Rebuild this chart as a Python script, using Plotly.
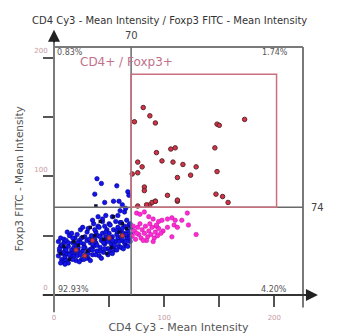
import plotly.graph_objects as go

# ---- data ----
blue_x = [4,5,6,4,7,8,9,6,10,8,10,9,
          11,12,13,11,14,15,16,17,13,18,19,16,12,18,20,19,
          21,22,23,21,24,25,26,27,28,23,29,30,26,28,24,30,
          31,32,33,34,31,35,36,37,38,33,39,40,36,38,34,40,
          41,42,43,44,41,45,46,47,48,43,49,50,46,48,44,50,
          51,52,53,54,51,55,56,57,58,53,59,60,56,58,54,60,
          61,62,63,64,61,65,66,67,68,63,69,70,66,68,64,70,
          5,7,9,11,13,15,17,20,22,25,27,29,32,35,37,39,42,45,47,49,52,55,57,59,62,65,67,69,
          6,10,14,17,21,24,27,31,35,38,42,46,49,53,57,61,65,69,
          39,43,57,67,68,37,54,46,59,60,64,40,47,53,58,62,65,44,35]
blue_y = [33,37,41,45,30,35,44,48,39,28,32,47,
          29,35,41,46,50,31,38,44,27,33,48,52,53,40,29,36,
          33,40,46,51,55,30,37,43,49,28,34,53,57,40,44,46,
          31,38,44,50,56,34,41,47,53,29,37,58,60,44,39,50,
          33,40,46,52,57,36,43,49,55,31,39,60,58,46,62,52,
          37,43,49,55,59,38,45,51,57,35,41,61,62,48,41,54,
          40,46,52,58,61,42,48,54,59,39,45,57,63,50,44,51,
          39,42,36,38,44,35,48,42,37,48,40,31,47,38,55,42,37,44,53,45,47,42,54,45,56,51,41,48,
          27,26,34,30,44,34,30,35,43,34,49,39,34,46,38,49,45,60,
          98,94,92,87,84,85,79,78,79,71,70,66,67,66,67,76,73,64,63]
navy_x = [6,14,22,30,37,45,52,59,66,9,26,48,38,54,62,18,33,42]
navy_y = [35,30,42,37,50,47,40,53,56,41,49,35,75,66,60,45,57,62]
magenta_x = [75,78,82,86,90,95,98,103,107,110,116,121,109,112,107,122,129,103,99,93,
             71,73,74,76,77,79,80,82,83,85,86,88,89,91,92,94,95,72,78,84,87,90,75,81,93,97]
magenta_y = [69,68,70,66,64,62,63,64,65,63,63,69,59,57,49,59,51,57,54,58,
             50,54,47,57,51,48,55,52,58,49,54,51,57,48,53,50,56,58,60,46,60,45,52,46,59,52]
red_x = [81,87,92,73,148,150,173,93,106,110,146,76,80,98,108,117,129,148,71,76,112,124,
         82,82,103,112,92,147,153,158,76,87,84,89,92,112,
         20,35,50,28,62]
red_y = [158,151,145,146,144,143,148,120,123,124,124,112,108,113,112,110,108,104,102,103,99,101,
         91,88,84,79,79,85,83,78,75,76,76,78,79,80,
         38,46,48,33,50]

x_tick_vals = [0, 50, 100, 150, 200]
x_tick_text = ["0", "", "100", "", "200"]
y_tick_vals = [0, 50, 100, 150, 200]
y_tick_text = ["0", "", "100", "", "200"]
x_gate, y_gate = 70, 74
gate_x0, gate_x1, gate_y0, gate_y1 = 70, 202, 74, 186
quad_labels = ["0.83%", "1.74%", "92.93%", "4.20%"]

FONT = "DejaVu Sans"
fig = go.Figure()
fig.add_trace(go.Scatter(x=blue_x, y=blue_y, mode="markers",
                         marker=dict(size=4.5, color="#1414ee", line=dict(width=0.6, color="#00008a"))))
fig.add_trace(go.Scatter(x=navy_x, y=navy_y, mode="markers",
                         marker=dict(size=3.5, color="#0a0a3a", symbol="square")))
fig.add_trace(go.Scatter(x=magenta_x, y=magenta_y, mode="markers",
                         marker=dict(size=4.5, color="#ff2ad4", line=dict(width=0.5, color="#c010a0"))))
fig.add_trace(go.Scatter(x=red_x, y=red_y, mode="markers",
                         marker=dict(size=4.5, color="#d8304a", line=dict(width=1, color="#5a2a2a"))))

shapes = [
    dict(type="line", xref="paper", yref="paper", x0=0, x1=1, y0=1, y1=1, line=dict(color="#7a7a7a", width=2)),
    dict(type="line", xref="paper", yref="paper", x0=1, x1=1, y0=-0.05, y1=1, line=dict(color="#7a7a7a", width=2)),
    dict(type="line", xref="paper", yref="paper", x0=-0.045, x1=1.05, y0=0, y1=0, line=dict(color="#333333", width=2)),
    dict(type="line", xref="paper", yref="paper", x0=0, x1=0, y0=-0.07, y1=1.05, line=dict(color="#7a7a7a", width=2)),
    dict(type="line", xref="x", yref="paper", x0=x_gate, x1=x_gate, y0=0, y1=1, line=dict(color="#6a6a6a", width=1.5)),
    dict(type="line", xref="paper", yref="y", x0=0, x1=1, y0=y_gate, y1=y_gate, line=dict(color="#6a6a6a", width=1.5)),
    dict(type="rect", xref="x", yref="y", x0=gate_x0, x1=gate_x1, y0=gate_y0, y1=gate_y1,
         line=dict(color="#c9707e", width=1.5)),
]

ann = [
    dict(text="CD4 Cy3 - Mean Intensity / Foxp3 FITC - Mean Intensity", xref="paper", yref="paper",
         x=0.462, y=1.105, yanchor="middle", showarrow=False, font=dict(size=10, color="#333", family=FONT)),
    dict(text=str(x_gate), xref="x", yref="paper", x=x_gate, y=1.048, yanchor="middle", showarrow=False,
         font=dict(size=10, color="#444", family=FONT)),
    dict(text=str(y_gate), xref="paper", yref="y", x=1.025, y=y_gate, xanchor="left", showarrow=False,
         font=dict(size=10, color="#444", family=FONT)),
    dict(text=quad_labels[0], xref="x", yref="y", x=1, y=204, xanchor="left", showarrow=False,
         font=dict(size=8, color="#555", family=FONT)),
    dict(text=quad_labels[1], xref="x", yref="y", x=214, y=204, xanchor="right", showarrow=False,
         font=dict(size=8, color="#555", family=FONT)),
    dict(text=quad_labels[2], xref="x", yref="y", x=2, y=4.5, xanchor="left", showarrow=False,
         font=dict(size=8, color="#555", family=FONT)),
    dict(text=quad_labels[3], xref="x", yref="y", x=213, y=4.5, xanchor="right", showarrow=False,
         font=dict(size=8, color="#555", family=FONT)),
    dict(text="CD4+ / Foxp3+", xref="x", yref="y", x=22, y=196, xanchor="left", showarrow=False,
         font=dict(size=12, color="#c0708a", family=FONT)),
    dict(text="Foxp3 FITC - Mean Intensity", xref="paper", yref="paper", x=-0.137, y=0.47,
         xanchor="center", yanchor="middle",
         textangle=-90, showarrow=False, font=dict(size=10.5, color="#555", family=FONT)),
    dict(text="", xref="paper", yref="paper", x=1.06, y=0, ax=-14, ay=0, showarrow=True,
         arrowhead=2, arrowsize=1.2, arrowwidth=2, arrowcolor="#222"),
    dict(text="", xref="paper", yref="paper", x=0, y=1.07, ax=0, ay=14, showarrow=True,
         arrowhead=2, arrowsize=1.2, arrowwidth=2, arrowcolor="#222"),
]

fig.update_layout(
    width=338, height=334, margin=dict(l=54, r=35, t=47, b=39),
    paper_bgcolor="white", plot_bgcolor="white", showlegend=False,
    shapes=shapes, annotations=ann, font=dict(family=FONT),
)
fig.update_xaxes(range=[0, 226], showgrid=False, zeroline=False, showline=False, automargin=False,
                 ticks="outside", ticklen=11, tickwidth=1.5, tickcolor="#555",
                 tickvals=x_tick_vals, ticktext=x_tick_text, ticklabelstandoff=5,
                 tickfont=dict(size=7, color="#c79aa4", family=FONT),
                 title=dict(text="CD4 Cy3 - Mean Intensity", standoff=9,
                            font=dict(size=11, color="#555", family=FONT)))
fig.update_yaxes(range=[0, 209], showgrid=False, zeroline=False, showline=False, automargin=False,
                 ticks="outside", ticklen=10, tickwidth=1.5, tickcolor="#555",
                 tickvals=y_tick_vals, ticktext=y_tick_text,
                 ticklabelshift=-7, ticklabelstandoff=-6,
                 tickfont=dict(size=7, color="#c79aa4", family=FONT))
fig.write_html("out.html")
